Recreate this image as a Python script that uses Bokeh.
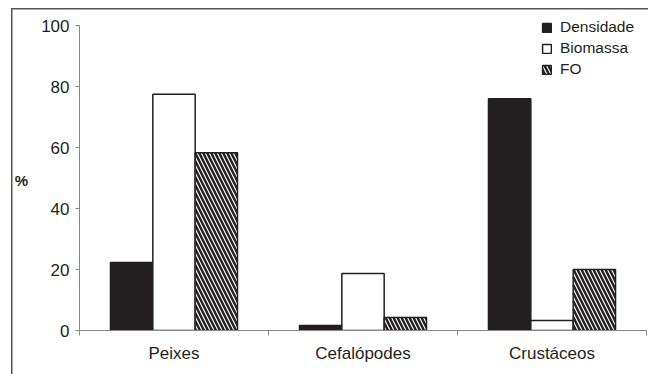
from bokeh.plotting import figure
from bokeh.models import (ColumnDataSource, FixedTicker, Legend, LegendItem,
                          Range1d)
from bokeh.embed import file_html
from bokeh.resources import INLINE

categories = ["Peixes", "Cefalópodes", "Crustáceos"]
densidade = [22.3, 1.6, 76.0]
biomassa = [77.5, 18.7, 3.3]
fo = [58.3, 4.3, 20.0]
series_names = ["Densidade", "Biomassa", "FO"]
y_ticks = [0, 20, 40, 60, 80, 100]

FONT = "Liberation Sans"
TXT = "#231f20"

TOP_PAD = 100 * 20 / 305.0  # keep y=100 at the same place while leaving room for legend
p = figure(width=648, height=374, output_backend="svg", toolbar_location=None,
           x_range=Range1d(0, 3), y_range=Range1d(0, 100 + TOP_PAD),
           min_border_left=79, min_border_right=2, min_border_top=5,
           min_border_bottom=44)
p.outline_line_color = None
p.grid.visible = False
p.background_fill_alpha = 0
p.border_fill_alpha = 0
p.styles = {
    "background-image": "linear-gradient(#555555,#555555), linear-gradient(#555555,#555555)",
    "background-size": "640px 1.5px, 1.5px 370px",
    "background-position": "11px 7.5px, 10.5px 7.5px",
    "background-repeat": "no-repeat",
}

centers = [i + 0.5 for i in range(len(categories))]
bw = 0.224
offsets = [-bw, 0.0, bw]
styles = [
    dict(fill_color="#231f20", line_color="#231f20"),
    dict(fill_color="white", line_color="#231f20"),
    dict(fill_color="white", line_color="#231f20", hatch_pattern="\\",
         hatch_color="#231f20", hatch_scale=8, hatch_weight=2.4),
]
renderers = []
for vals, off, st, name in zip([densidade, biomassa, fo], offsets, styles, series_names):
    src = ColumnDataSource(dict(x=[c + off for c in centers], top=vals))
    r = p.vbar(x="x", top="top", bottom=0, width=bw, source=src,
               line_width=1.5, **st)
    renderers.append(r)

# axes
xa = p.xaxis[0]
xa.ticker = FixedTicker(ticks=centers, minor_ticks=[0, 1, 2, 3])
xa.major_label_overrides = {c: cat for c, cat in zip(centers, categories)}
xa.major_tick_out = 0
xa.major_tick_in = 0
xa.minor_tick_out = 5
xa.minor_tick_in = 0
xa.minor_tick_line_color = "#888888"
xa.axis_line_color = "#888888"
xa.major_label_text_font = FONT
xa.major_label_text_font_size = "17px"
xa.major_label_text_color = TXT
xa.major_label_standoff = 8

ya = p.yaxis[0]
ya.ticker = FixedTicker(ticks=y_ticks, minor_ticks=[])
ya.bounds = (0, 100)
ya.major_tick_out = 4
ya.major_tick_in = 0
ya.major_tick_line_color = "#888888"
ya.axis_line_color = "#888888"
ya.major_label_text_font = FONT
ya.major_label_text_font_size = "17px"
ya.major_label_text_color = TXT
ya.major_label_standoff = 6
ya.axis_label = "\n%"
ya.axis_label_text_font = FONT
ya.axis_label_text_font_size = "15px"
ya.axis_label_text_font_style = "bold"
ya.axis_label_text_color = TXT
ya.axis_label_text_line_height = 1.5
ya.axis_label_standoff = 10
try:
    ya.axis_label_orientation = "horizontal"
except Exception:
    pass

legend = Legend(items=[LegendItem(label=n, renderers=[r]) for n, r in zip(series_names, renderers)],
                location=(462, 252), padding=0, margin=0, spacing=3,
                glyph_width=11, glyph_height=11, label_standoff=8,
                label_text_font=FONT, label_text_font_size="15.5px",
                label_text_color=TXT, border_line_color=None,
                background_fill_alpha=0)
p.add_layout(legend)

open("out.html", "w").write(file_html(p, INLINE))
